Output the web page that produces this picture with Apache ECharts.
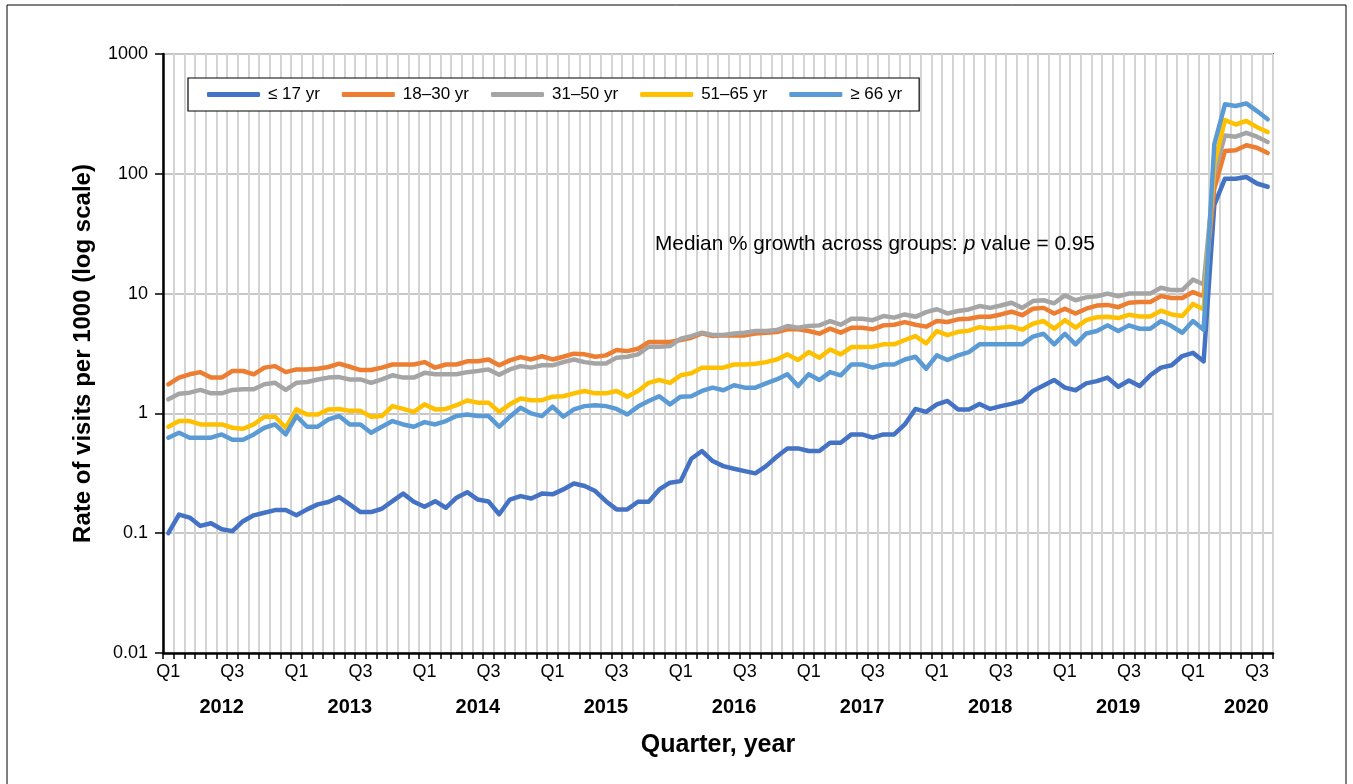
<!DOCTYPE html>
<html>
<head>
<meta charset="utf-8">
<script src="https://cdn.jsdelivr.net/npm/echarts@6/dist/echarts.min.js"></script>
<style>
html,body{margin:0;padding:0;background:#fff;}
#chart{width:1353px;height:784px;}
</style>
</head>
<body>
<div id="chart"></div>
<script type="text/javascript">
    // x categories: one per month, Jan 2012 .. Aug 2020
    var years = [2012, 2013, 2014, 2015, 2016, 2017, 2018, 2019, 2020];
    var monthsLastYear = 8;
    var quarterLabels = {1: 'Q1', 7: 'Q3'};
    var yTickLabels = ['0.01', '0.1', '1', '10', '100', '1000'];
    var seriesNames = ['≤ 17 yr', '18–30 yr', '31–50 yr', '51–65 yr', '≥ 66 yr'];
    var colors = ['#4472C4', '#ED7D31', '#A5A5A5', '#FFC000', '#5B9BD5'];

    var age17 = [
        0.1, 0.143, 0.135, 0.115, 0.121, 0.108, 0.104, 0.126, 0.141, 0.148, 0.156, 0.156,
        0.141, 0.158, 0.174, 0.182, 0.2, 0.174, 0.15, 0.15, 0.16, 0.185, 0.214, 0.183,
        0.166, 0.185, 0.163, 0.198, 0.22, 0.191, 0.184, 0.144, 0.191, 0.204, 0.195, 0.214,
        0.211, 0.232, 0.26, 0.248, 0.225, 0.185, 0.158, 0.158, 0.183, 0.183, 0.232, 0.264,
        0.272, 0.418, 0.485, 0.4, 0.363, 0.345, 0.33, 0.316, 0.363, 0.435, 0.51, 0.51,
        0.485, 0.485, 0.569, 0.569, 0.668, 0.668, 0.627, 0.668, 0.668, 0.809, 1.09, 1.03,
        1.19, 1.27, 1.08, 1.08, 1.2, 1.09, 1.15, 1.2, 1.27, 1.54, 1.71, 1.9,
        1.64, 1.56, 1.78, 1.86, 1.99, 1.67, 1.88, 1.69, 2.08, 2.41, 2.52, 3.01,
        3.2, 2.72, 55, 91, 91, 94, 83, 78
    ];
    var age18to30 = [
        1.75, 1.99, 2.12, 2.21, 1.99, 1.99, 2.26, 2.26, 2.12, 2.41, 2.48, 2.21,
        2.33, 2.33, 2.36, 2.44, 2.6, 2.45, 2.3, 2.3, 2.41, 2.56, 2.56, 2.56,
        2.68, 2.41, 2.56, 2.56, 2.72, 2.72, 2.82, 2.52, 2.77, 2.95, 2.82, 3.0,
        2.82, 2.97, 3.15, 3.11, 2.97, 3.05, 3.38, 3.31, 3.46, 3.94, 3.94, 3.94,
        4.1, 4.28, 4.65, 4.42, 4.48, 4.48, 4.48, 4.65, 4.72, 4.78, 5.03, 5.03,
        4.87, 4.63, 5.1, 4.72, 5.19, 5.19, 5.03, 5.43, 5.5, 5.78, 5.5, 5.3,
        5.9, 5.79, 6.1, 6.17, 6.4, 6.4, 6.7, 7.06, 6.6, 7.48, 7.6, 6.83,
        7.48, 6.83, 7.48, 7.95, 8.05, 7.7, 8.39, 8.5, 8.5, 9.53, 9.2, 9.2,
        10.3, 9.5, 75, 155, 157, 173, 165, 149
    ];
    var age31to50 = [
        1.31, 1.46, 1.49, 1.57, 1.47, 1.47, 1.57, 1.59, 1.59, 1.75, 1.8, 1.57,
        1.8, 1.83, 1.92, 1.99, 2.01, 1.92, 1.92, 1.8, 1.92, 2.08, 1.99, 1.99,
        2.18, 2.12, 2.12, 2.12, 2.21, 2.26, 2.33, 2.1, 2.33, 2.48, 2.41, 2.52,
        2.52, 2.68, 2.82, 2.68, 2.61, 2.61, 2.92, 2.97, 3.11, 3.6, 3.6, 3.65,
        4.2, 4.42, 4.72, 4.52, 4.52, 4.65, 4.72, 4.87, 4.87, 4.96, 5.36, 5.19,
        5.36, 5.43, 5.9, 5.5, 6.17, 6.17, 6.0, 6.49, 6.3, 6.7, 6.4, 7.0,
        7.4, 6.83, 7.15, 7.38, 7.87, 7.6, 7.95, 8.39, 7.6, 8.67, 8.8, 8.3,
        9.66, 8.8, 9.3, 9.5, 10.0, 9.5, 10.0, 10.0, 10.0, 11.2, 10.7, 10.7,
        13.1, 11.9, 100, 209, 204, 220, 204, 184
    ];
    var age51to65 = [
        0.774, 0.863, 0.863, 0.809, 0.809, 0.809, 0.759, 0.745, 0.809, 0.938, 0.938, 0.759,
        1.08, 0.98, 0.98, 1.08, 1.09, 1.05, 1.05, 0.938, 0.95, 1.15, 1.09, 1.03,
        1.19, 1.08, 1.09, 1.17, 1.28, 1.23, 1.23, 1.03, 1.19, 1.33, 1.29, 1.29,
        1.38, 1.39, 1.47, 1.54, 1.47, 1.47, 1.54, 1.38, 1.54, 1.8, 1.9, 1.8,
        2.08, 2.16, 2.41, 2.41, 2.41, 2.56, 2.56, 2.6, 2.68, 2.82, 3.11, 2.79,
        3.25, 2.92, 3.42, 3.11, 3.58, 3.58, 3.6, 3.77, 3.77, 4.1, 4.42, 3.84,
        4.87, 4.5, 4.8, 4.9, 5.25, 5.1, 5.2, 5.3, 5.0, 5.6, 5.9, 5.1,
        6.0, 5.2, 6.0, 6.35, 6.4, 6.25, 6.65, 6.45, 6.45, 7.2, 6.7, 6.5,
        8.2, 7.4, 120, 281, 258, 276, 245, 223
    ];
    var age66 = [
        0.627, 0.69, 0.627, 0.627, 0.627, 0.668, 0.602, 0.602, 0.668, 0.759, 0.809, 0.668,
        0.95, 0.774, 0.774, 0.89, 0.95, 0.809, 0.809, 0.69, 0.774, 0.863, 0.809, 0.774,
        0.846, 0.809, 0.863, 0.95, 0.98, 0.95, 0.95, 0.774, 0.938, 1.115, 1.0, 0.95,
        1.14, 0.938, 1.08, 1.15, 1.17, 1.15, 1.09, 0.98, 1.14, 1.27, 1.39, 1.19,
        1.38, 1.39, 1.54, 1.64, 1.56, 1.72, 1.64, 1.64, 1.78, 1.92, 2.12, 1.69,
        2.12, 1.9, 2.21, 2.08, 2.56, 2.56, 2.41, 2.56, 2.56, 2.82, 2.97, 2.36,
        3.05, 2.79, 3.05, 3.25, 3.77, 3.77, 3.77, 3.77, 3.77, 4.37, 4.62, 3.77,
        4.62, 3.77, 4.65, 4.87, 5.43, 4.87, 5.43, 5.09, 5.09, 5.9, 5.36, 4.71,
        5.9, 5.0, 176, 380, 368, 387, 334, 285
    ];
    var seriesData = [age17, age18to30, age31to50, age51to65, age66];

    var categories = [];
    for (var k = 0; k < years.length; k++) {
        var n = (k === years.length - 1) ? monthsLastYear : 12;
        for (var m = 1; m <= n; m++) {
            categories.push(years[k] + '-' + m);
        }
    }

    var font = 'Liberation Sans, Arial, Helvetica, sans-serif';
    var myChart = echarts.init(document.getElementById('chart'));

    var series = [];
    for (var s = 0; s < seriesNames.length; s++) {
        series.push({
            name: seriesNames[s],
            type: 'line',
            data: seriesData[s],
            showSymbol: false,
            symbol: 'none',
            lineStyle: {width: 4.5, color: colors[s], cap: 'round', join: 'round'},
            itemStyle: {color: colors[s]}
        });
    }

    var option = {
        animation: false,
        color: colors,
        // annotation, p in italics
        title: {
            text: '{n|Median % growth across groups: }{i|p}{n| value = 0.95}',
            left: 655,
            top: 234,
            padding: 0,
            textStyle: {
                fontWeight: 'normal',
                rich: {
                    n: {fontFamily: font, fontSize: 20.8, fontWeight: 'normal', color: '#000'},
                    i: {fontFamily: font, fontSize: 20.8, fontWeight: 'normal', fontStyle: 'italic', color: '#000'}
                }
            }
        },
        legend: {
            left: 188,
            top: 78,
            padding: [8, 17, 8, 19],
            backgroundColor: '#fff',
            borderColor: '#000',
            borderWidth: 1.2,
            icon: 'roundRect',
            itemWidth: 53,
            itemHeight: 5,
            itemGap: 22,
            textStyle: {fontFamily: font, fontSize: 17, color: '#000', padding: [0, 0, 0, 3]},
            data: seriesNames
        },
        grid: {
            left: 163, right: 80, top: 54, bottom: 131,
            show: true, borderColor: '#000', borderWidth: 1.5
        },
        xAxis: [{
            type: 'category',
            data: categories,
            boundaryGap: true,
            position: 'bottom',
            name: 'Quarter, year',
            nameLocation: 'middle',
            nameGap: 80,
            nameTextStyle: {fontFamily: font, fontSize: 25, fontWeight: 'bold', color: '#000'},
            axisLine: {lineStyle: {color: '#000', width: 2.5}},
            axisTick: {show: true, interval: 0, length: 6, lineStyle: {color: '#000', width: 1.5}},
            splitLine: {show: true, interval: 0, lineStyle: {color: '#d4d4d4', width: 2}},
            axisLabel: {
                interval: function (index) { return index % 6 === 0; },
                formatter: function (v) { return quarterLabels[+v.split('-')[1]] || ''; },
                margin: 10,
                fontFamily: font, fontSize: 18, color: '#000'
            }
        }, {
            type: 'category',
            data: categories,
            boundaryGap: true,
            position: 'bottom',
            axisLine: {show: false},
            axisTick: {show: false},
            splitLine: {show: false},
            axisLabel: {
                interval: function (index) { return index % 12 === 5; },
                formatter: function (v) { return v.split('-')[0]; },
                margin: 44,
                fontFamily: font, fontSize: 20, fontWeight: 'bold', color: '#000'
            }
        }],
        yAxis: {
            type: 'log',
            logBase: 10,
            min: 0.01,
            max: 1000,
            name: 'Rate of visits per 1000 (log scale)',
            nameLocation: 'middle',
            nameGap: 68,
            nameTextStyle: {fontFamily: font, fontSize: 24, fontWeight: 'bold', color: '#000'},
            axisLine: {show: true, lineStyle: {color: '#000', width: 2.5}},
            axisTick: {show: true, length: 8, lineStyle: {color: '#000', width: 1.5}},
            minorTick: {show: false},
            splitLine: {show: true, lineStyle: {color: '#c8c8c8', width: 2}},
            axisLabel: {
                formatter: function (v) { return yTickLabels[Math.round(Math.log(v) / Math.LN10) + 2]; },
                margin: 15,
                fontFamily: font, fontSize: 18, color: '#000'
            }
        },
        graphic: [{
            type: 'rect',
            silent: true,
            shape: {x: 7, y: 5, width: 1339, height: 790},
            style: {fill: 'none', stroke: '#000', lineWidth: 1}
        }],
        series: series
    };
    myChart.setOption(option);
</script>
</body>
</html>
